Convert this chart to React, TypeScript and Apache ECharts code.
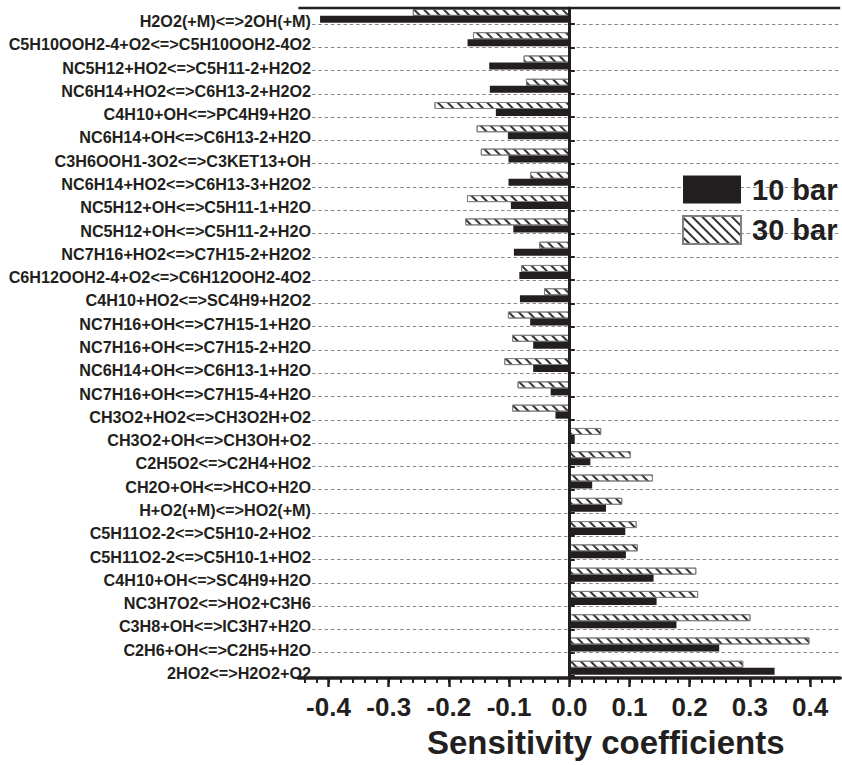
import React, { useEffect, useRef } from 'react';
import * as echarts from 'echarts';

const reactions = [
  'H2O2(+M)<=>2OH(+M)',
  'C5H10OOH2-4+O2<=>C5H10OOH2-4O2',
  'NC5H12+HO2<=>C5H11-2+H2O2',
  'NC6H14+HO2<=>C6H13-2+H2O2',
  'C4H10+OH<=>PC4H9+H2O',
  'NC6H14+OH<=>C6H13-2+H2O',
  'C3H6OOH1-3O2<=>C3KET13+OH',
  'NC6H14+HO2<=>C6H13-3+H2O2',
  'NC5H12+OH<=>C5H11-1+H2O',
  'NC5H12+OH<=>C5H11-2+H2O',
  'NC7H16+HO2<=>C7H15-2+H2O2',
  'C6H12OOH2-4+O2<=>C6H12OOH2-4O2',
  'C4H10+HO2<=>SC4H9+H2O2',
  'NC7H16+OH<=>C7H15-1+H2O',
  'NC7H16+OH<=>C7H15-2+H2O',
  'NC6H14+OH<=>C6H13-1+H2O',
  'NC7H16+OH<=>C7H15-4+H2O',
  'CH3O2+HO2<=>CH3O2H+O2',
  'CH3O2+OH<=>CH3OH+O2',
  'C2H5O2<=>C2H4+HO2',
  'CH2O+OH<=>HCO+H2O',
  'H+O2(+M)<=>HO2(+M)',
  'C5H11O2-2<=>C5H10-2+HO2',
  'C5H11O2-2<=>C5H10-1+HO2',
  'C4H10+OH<=>SC4H9+H2O',
  'NC3H7O2<=>HO2+C3H6',
  'C3H8+OH<=>IC3H7+H2O',
  'C2H6+OH<=>C2H5+H2O',
  '2HO2<=>H2O2+O2',
];

const bar10 = [
  -0.414, -0.169, -0.133, -0.132, -0.122, -0.102, -0.101, -0.101, -0.097, -0.093,
  -0.092, -0.083, -0.082, -0.065, -0.060, -0.060, -0.031, -0.023, 0.009, 0.035,
  0.038, 0.061, 0.093, 0.094, 0.140, 0.145, 0.178, 0.249, 0.341,
];

const bar30 = [
  -0.26, -0.16, -0.076, -0.072, -0.224, -0.154, -0.147, -0.065, -0.17, -0.173,
  -0.05, -0.08, -0.042, -0.102, -0.095, -0.108, -0.086, -0.095, 0.053, 0.102,
  0.139, 0.088, 0.112, 0.114, 0.211, 0.214, 0.301, 0.399, 0.289,
];

const seriesNames = ['10 bar', '30 bar'];
const xTitle = 'Sensitivity coefficients';

const FONT = "'Liberation Sans', Arial, Helvetica, sans-serif";
const INK = '#231f20';
const W = 842;
const H = 765;
const ZERO_X = 569.3;
const PX_PER_UNIT = 602;
const xAt = (v: number) => ZERO_X + PX_PER_UNIT * v;
const vAt = (x: number) => (x - ZERO_X) / PX_PER_UNIT;

function buildOption() {
  const axisTop = 8;
  const axisBottom = 678;
  const bLeft = 312;
  const gridB = { left: bLeft, right: W - xAt(0.45), top: 0.72, bottom: H - 675.9 };
  const gridA = { left: xAt(-0.45), right: W - xAt(0.45), top: axisTop, bottom: H - axisBottom };
  const gridC = { left: xAt(-0.44), right: W - xAt(0.44), top: axisTop, bottom: H - axisBottom };
  const gridD = { left: xAt(-0.4), right: W - xAt(0.4), top: axisTop, bottom: H - axisBottom };
  const gridE = { ...gridB };

  const hidden = {
    axisLine: { show: false, onZero: false },
    axisTick: { show: false },
    axisLabel: { show: false },
    splitLine: { show: false },
  };
  const barW = 7;
  const skipFirst = (index: number) => index !== 0;

  const grids = [gridB, gridA, gridC, gridD, gridE];

  const xAxes = [
    // 0: bar scale (grid B)
    { gridIndex: 0, type: 'value', min: vAt(bLeft), max: 0.45, ...hidden },
    // 1: bottom axis line (grid A)
    {
      gridIndex: 1, type: 'value', min: -0.45, max: 0.45, position: 'bottom', ...hidden,
      axisLine: { show: true, onZero: false, lineStyle: { color: INK, width: 3.5 } },
    },
    // 2: minor ticks (grid C)
    {
      gridIndex: 2, type: 'value', min: -0.44, max: 0.44, interval: 0.02, position: 'bottom', ...hidden,
      axisTick: { show: true, length: 5, lineStyle: { color: INK, width: 2 } },
    },
    // 3: major ticks + labels (grid D)
    {
      gridIndex: 3, type: 'value', min: -0.4, max: 0.4, interval: 0.1, position: 'bottom', ...hidden,
      axisTick: { show: true, length: 9, lineStyle: { color: INK, width: 2.5 } },
      axisLabel: {
        show: true, fontSize: 26, fontWeight: 'bold', color: INK, fontFamily: FONT, margin: 16,
        formatter: (v: number) => v.toFixed(1),
      },
    },
    // 4: scale for the right-hand tick halves (grid E)
    { gridIndex: 4, type: 'value', min: vAt(bLeft), max: 0.45, ...hidden },
  ];

  const yAxes = [
    // 0: category labels + dashed grid (grid B)
    {
      gridIndex: 0, type: 'category', inverse: true, data: reactions, position: 'left',
      axisLine: { show: false, onZero: false },
      axisTick: { show: false },
      axisLabel: {
        show: true, fontSize: 16.2, fontWeight: 'bold', color: INK, fontFamily: FONT,
        margin: 1, verticalAlign: 'top', lineHeight: 17.4,
      },
      splitLine: {
        show: true, showMinLine: false, showMaxLine: false,
        lineStyle: { type: [3.5, 2.8], color: '#888888', width: 1 },
      },
    },
    // 1: left halves of the ticks on the zero line (grid B)
    {
      gridIndex: 0, type: 'category', inverse: true, data: reactions, z: 6,
      axisLine: { show: true, onZero: true, lineStyle: { opacity: 0 } },
      axisTick: { show: true, interval: skipFirst, length: 5.5, lineStyle: { color: INK, width: 2 } },
      axisLabel: { show: false },
      splitLine: { show: false },
    },
    // 2: zero line (grid A)
    {
      gridIndex: 1, type: 'value', min: 0, max: 1, z: 5, ...hidden,
      axisLine: { show: true, onZero: true, lineStyle: { color: INK, width: 3 } },
    },
    { gridIndex: 2, type: 'value', min: 0, max: 1, ...hidden },
    { gridIndex: 3, type: 'value', min: 0, max: 1, ...hidden },
    // 5: right halves of the ticks on the zero line (grid E)
    {
      gridIndex: 4, type: 'category', inverse: true, data: reactions, z: 6,
      axisLine: { show: true, onZero: true, lineStyle: { opacity: 0 } },
      axisTick: { show: true, interval: skipFirst, inside: true, length: 4.5, lineStyle: { color: INK, width: 2 } },
      axisLabel: { show: false },
      splitLine: { show: false },
    },
  ];

  const series = [
    {
      name: '_pad', type: 'bar', xAxisIndex: 0, yAxisIndex: 0, barWidth: barW, barGap: '0%',
      data: reactions.map(() => 0), silent: true, itemStyle: { opacity: 0 },
    },
    {
      name: seriesNames[1], type: 'bar', xAxisIndex: 0, yAxisIndex: 0, barWidth: barW, barGap: '0%',
      data: bar30,
      itemStyle: {
        color: '#ffffff', borderColor: '#808080', borderWidth: 1,
        decal: {
          symbol: 'rect', symbolSize: 1, dashArrayX: [1, 0], dashArrayY: [1.1, 4.2],
          rotation: Math.PI / 4, color: '#333333',
        },
      },
    },
    {
      name: seriesNames[0], type: 'bar', xAxisIndex: 0, yAxisIndex: 0, barWidth: barW, barGap: '0%',
      data: bar10,
      itemStyle: { color: INK },
    },
  ];

  return {
    animation: false,
    backgroundColor: '#ffffff',
    textStyle: { fontFamily: FONT },
    title: {
      text: xTitle, left: 427, top: 726, padding: 0,
      textStyle: { fontSize: 33, fontWeight: 'bold', color: INK, fontFamily: FONT },
    },
    legend: {
      data: seriesNames, orient: 'vertical', left: 682, top: 175, padding: 0,
      itemWidth: 58, itemHeight: 28, itemGap: 11, selectedMode: false, icon: 'rect',
      textStyle: { fontSize: 29, fontWeight: 'bold', color: INK, fontFamily: FONT, padding: [0, 0, 0, 6] },
    },
    graphic: [
      {
        type: 'line', z: 10, silent: true,
        shape: { x1: xAt(-0.45), y1: axisTop, x2: xAt(0.45), y2: axisTop },
        style: { stroke: INK, lineWidth: 2.5 },
      },
    ],
    grid: grids,
    xAxis: xAxes,
    yAxis: yAxes,
    series,
  };
}

export default function App() {
  const ref = useRef<HTMLDivElement>(null);

  useEffect(() => {
    if (!ref.current) return;
    const chart = echarts.init(ref.current, null, { renderer: 'svg', width: W, height: H });
    chart.setOption(buildOption() as any);
    return () => chart.dispose();
  }, []);

  return (
    <div
      ref={ref}
      style={{ position: 'fixed', left: 0, top: 0, width: W, height: H, background: '#fff' }}
    />
  );
}
